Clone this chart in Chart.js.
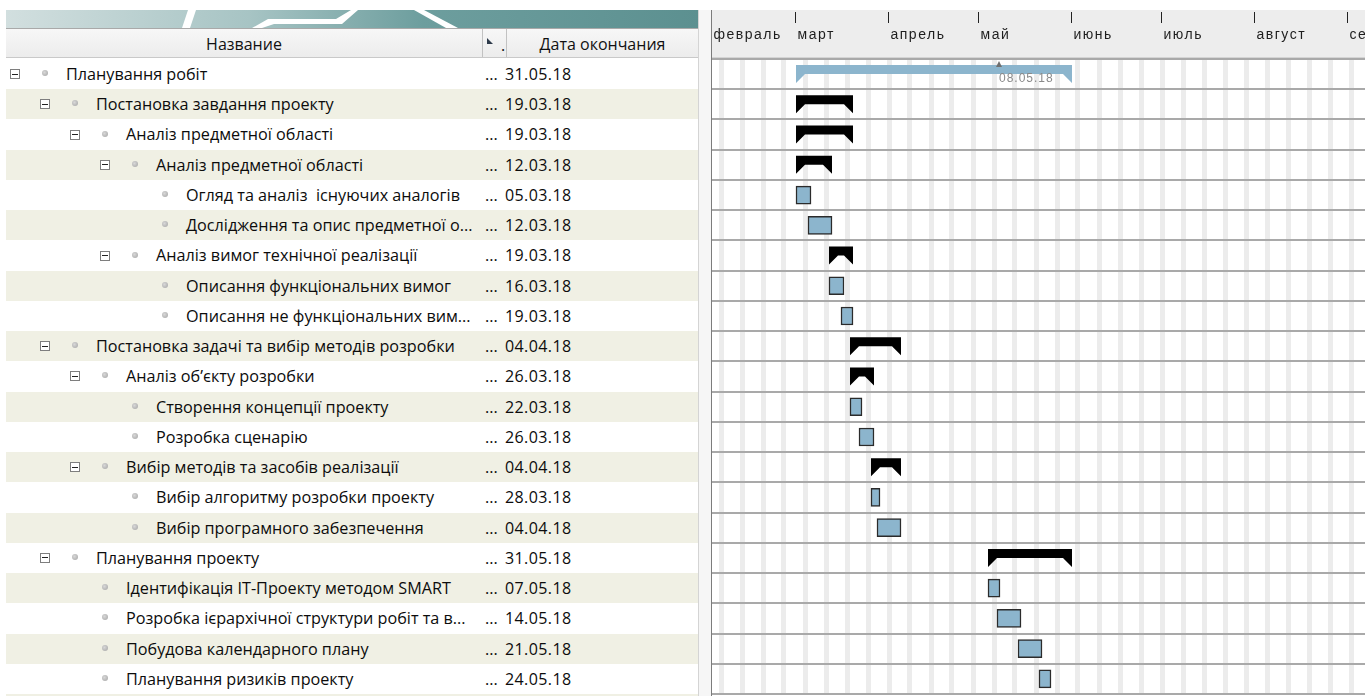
<!DOCTYPE html>
<html>
<head>
<meta charset="utf-8">
<script src="https://cdn.jsdelivr.net/npm/chart.js@4.4.1/dist/chart.umd.min.js"></script>
<style>
  body { margin: 0; width: 1365px; height: 696px; overflow: hidden; background: #fff; position: relative;
         font-family: "Open Sans", sans-serif; }
  #banner { position: absolute; left: 6px; top: 10px; width: 694px; height: 18px; }
  #header { position: absolute; left: 6px; top: 28px; width: 692px; height: 30px; box-sizing: border-box;
            border-top: 1px solid #a9a9a9; border-bottom: 1px solid #c9c9c9;
            background: linear-gradient(#f7f7f7, #ececec); font-size: 16px; color: #111; }
  .hcell { position: absolute; top: 0; height: 28px; line-height: 30px; text-align: center; box-sizing: border-box;
           border-right: 1px solid #c2c2c2; }
  #rows { position: absolute; left: 0; top: 0; width: 698px; height: 696px; }
  .row { position: absolute; left: 6px; width: 692px; font-size: 16.2px; color: #0c0c0c; }
  .row.alt { background: #f0f0e4; }
  .exp { position: absolute; width: 10px; height: 10px; box-sizing: border-box; border: 1px solid #7e7e7e; background: #fff; }
  .exp::after { content: ""; position: absolute; left: 1px; top: 3.5px; width: 6px; height: 1px; background: #222; }
  .dot { position: absolute; width: 6px; height: 6px; border-radius: 50%;
         background: radial-gradient(circle at 40% 40%, #d8d8d8, #a3a3a3); }
  .name, .ell, .date { position: absolute; top: 0; white-space: pre; }
  .date { letter-spacing: 0.4px; font-size: 16px; }
  #split { position: absolute; left: 698px; top: 10px; width: 13px; height: 686px; background: #f6f6f6;
           border-left: 1px solid #d4d4d4; box-sizing: border-box; }
  #wrap { position: absolute; left: 711px; top: 0; width: 654px; height: 696px; }
</style>
</head>
<body>
<svg id="banner" width="694" height="18">
  <defs>
    <linearGradient id="g" x1="0" x2="1" y1="0" y2="0">
      <stop offset="0" stop-color="#d2dfdf"/>
      <stop offset="0.35" stop-color="#a7c4c4"/>
      <stop offset="0.6" stop-color="#6d9e9e"/>
      <stop offset="1" stop-color="#5c9090"/>
    </linearGradient>
  </defs>
  <rect width="694" height="18" fill="url(#g)"/>
  <polygon points="176,18 182,0 190,0 184,18" fill="#fff"/>
  <polygon points="246,18 262,9 330,9 345,0 352,0 336,14 268,14 256,18" fill="#fff"/>
  <polygon points="408,0 418,0 452,18 440,18" fill="#fff"/>
</svg>
<div id="header">
  <div class="hcell" style="left:0;width:477px">Название</div>
  <div class="hcell" style="left:477px;width:24px"><span style="position:absolute;left:4px;top:9px;width:0;height:0;border-left:6px solid #2d3a4a;border-top:6px solid transparent"></span><span style="position:absolute;left:18px;top:0;line-height:32px">.</span></div>
  <div class="hcell" style="left:501px;width:191px;border-right:none">Дата окончания</div>
</div>
<div id="rows"></div>
<div id="split"></div>
<div id="wrap"><canvas id="gantt" width="654" height="696"></canvas></div>
<script>
const taskNames = [
  "Планування робіт",
  "Постановка завдання проекту",
  "Аналіз предметної області",
  "Аналіз предметної області",
  "Огляд та аналіз  існуючих аналогів",
  "Дослідження та опис предметної о...",
  "Аналіз вимог технічної реалізації",
  "Описання функціональних вимог",
  "Описання не функціональних вим...",
  "Постановка задачі та вибір методів розробки",
  "Аналіз об’єкту розробки",
  "Створення концепції проекту",
  "Розробка сценарію",
  "Вибір методів та засобів реалізації",
  "Вибір алгоритму розробки проекту",
  "Вибір програмного забезпечення",
  "Планування проекту",
  "Ідентифікація IT-Проекту методом SMART",
  "Розробка ієрархічної структури робіт та в...",
  "Побудова календарного плану",
  "Планування ризиків проекту"
];
const taskLevels = [0, 1, 2, 3, 4, 4, 3, 4, 4, 1, 2, 3, 3, 2, 3, 3, 1, 2, 2, 2, 2];
const isSummary = [true, true, true, true, false, false, true, false, false, true, true, false, false, true, false, false, true, false, false, false, false];
const startDates = [
  "2018-03-01", "2018-03-01", "2018-03-01", "2018-03-01", "2018-03-01", "2018-03-05", "2018-03-12",
  "2018-03-12", "2018-03-16", "2018-03-19", "2018-03-19", "2018-03-19", "2018-03-22", "2018-03-26",
  "2018-03-26", "2018-03-28", "2018-05-04", "2018-05-04", "2018-05-07", "2018-05-14", "2018-05-21"
];
const endDates = [
  "2018-05-31", "2018-03-19", "2018-03-19", "2018-03-12", "2018-03-05", "2018-03-12", "2018-03-19",
  "2018-03-16", "2018-03-19", "2018-04-04", "2018-03-26", "2018-03-22", "2018-03-26", "2018-04-04",
  "2018-03-28", "2018-04-04", "2018-05-31", "2018-05-07", "2018-05-14", "2018-05-21", "2018-05-24"
];
const monthNames = ["февраль", "март", "апрель", "май", "июнь", "июль", "август", "сентябрь"];
const monthStarts = ["2018-02-01", "2018-03-01", "2018-04-01", "2018-05-01", "2018-06-01", "2018-07-01", "2018-08-01", "2018-09-01"];
const markerDate = "2018-05-08";
const markerLabel = "08.05.18";

// days since 1 Feb 2018
function dayOf(s) {
  const p = s.split("-").map(Number);
  return (Date.UTC(p[0], p[1] - 1, p[2]) - Date.UTC(2018, 1, 1)) / 86400000;
}
function shortDate(s) {
  const p = s.split("-");
  return p[2] + "." + p[1] + "." + p[0].slice(2);
}

const spans = startDates.map((s, i) => [dayOf(s), dayOf(endDates[i]) + 1]);
const taskData = spans.map((v, i) => isSummary[i] ? null : v);
const summaryData = spans.map((v, i) => isSummary[i] ? v : null);

const xMin = -1 / 3, xMax = xMin + 654 / 3;
const weekends = [];
for (let d = 3; d < xMax + 3; d += 7) weekends.push(d);

const headerPlugin = {
  id: "header",
  beforeDraw(chart) {
    const c = chart.ctx, xs = chart.scales.x;
    c.save();
    c.fillStyle = "#ededed";
    c.fillRect(0, 10, chart.width, 48);
    c.fillStyle = "#d4d4d4";
    c.fillRect(0, 57, chart.width, 1);
    c.strokeStyle = "#222";
    c.lineWidth = 1;
    c.fillStyle = "#1e1e1e";
    c.font = "14px 'Liberation Sans', Arial, sans-serif";
    c.letterSpacing = "1.5px";
    c.textBaseline = "middle";
    monthStarts.forEach((m, i) => {
      const px = Math.round(xs.getPixelForValue(dayOf(m))) - 0.5;
      c.beginPath();
      c.moveTo(px, 12);
      c.lineTo(px, 23);
      c.stroke();
      c.fillText(monthNames[i], px + 2, 35);
    });
    c.restore();
  },
  afterDraw(chart) {
    const c = chart.ctx;
    c.save();
    c.fillStyle = "#7c7c7c";
    c.fillRect(0, 10, 1, chart.height - 10);
    c.restore();
  }
};

const summaryPlugin = {
  id: "summaryShapes",
  beforeDatasetDraw(chart, args) {
    if (args.index !== 1) return;
    const c = chart.ctx;
    const ds = chart.data.datasets[1];
    args.meta.data.forEach((el, i) => {
      if (!ds.data[i]) return;
      const x0 = Math.min(el.base, el.x), x1 = Math.max(el.base, el.x);
      const top = el.y - el.height / 2, bot = el.y + el.height / 2;
      const band = el.height / 2;
      const d = Math.min(9, (x1 - x0) / 2);
      c.save();
      c.fillStyle = ds.backgroundColor[i];
      c.beginPath();
      c.moveTo(x0, top);
      c.lineTo(x1, top);
      c.lineTo(x1, bot);
      c.lineTo(x1 - d, top + band);
      c.lineTo(x0 + d, top + band);
      c.lineTo(x0, bot);
      c.closePath();
      c.fill();
      c.restore();
    });
    return false;
  },
  afterDatasetsDraw(chart) {
    const c = chart.ctx, xs = chart.scales.x, ys = chart.scales.y;
    const px = xs.getPixelForValue(dayOf(markerDate)) - 1;
    const cy = ys.getPixelForValue(0);
    c.save();
    c.fillStyle = "#6f6f6f";
    c.beginPath();
    c.moveTo(px - 3, cy - 7);
    c.lineTo(px, cy - 13);
    c.lineTo(px + 3, cy - 7);
    c.closePath();
    c.fill();
    c.fillStyle = "#8a8a8a";
    c.font = "12px 'Liberation Sans', Arial, sans-serif";
    c.letterSpacing = "1px";
    c.textBaseline = "middle";
    c.fillText(markerLabel, px, cy + 5);
    c.restore();
  }
};

const chart = new Chart(document.getElementById("gantt"), {
  type: "bar",
  data: {
    labels: taskNames,
    datasets: [
      {
        label: "tasks",
        data: taskData,
        backgroundColor: "#8cb5cd",
        borderColor: "#2b2b2b",
        borderWidth: 1.5,
        borderSkipped: false,
        barThickness: 18,
        grouped: false
      },
      {
        label: "summary",
        data: summaryData,
        backgroundColor: summaryData.map((v, i) => i === 0 ? "#8cb5cd" : "#000000"),
        borderWidth: 0,
        barThickness: 18,
        grouped: false
      }
    ]
  },
  options: {
    indexAxis: "y",
    responsive: false,
    animation: false,
    layout: { padding: { top: 59, bottom: 2, left: 0, right: 0 } },
    plugins: { legend: { display: false }, tooltip: { enabled: false } },
    scales: {
      x: {
        type: "linear",
        position: "top",
        min: xMin,
        max: xMax,
        afterBuildTicks: s => { s.ticks = weekends.map(v => ({ value: v })); },
        ticks: { display: false },
        grid: { color: "#ececec", lineWidth: 5, drawTicks: false },
        border: { display: false }
      },
      y: {
        offset: true,
        ticks: { display: false },
        grid: { offset: true, color: "#a9a9a9", lineWidth: 2, drawTicks: false },
        border: { display: false }
      }
    }
  },
  plugins: [headerPlugin, summaryPlugin]
});

// left task table, rows placed from the chart's own y scale
(function buildTable() {
  const ys = chart.scales.y;
  const band = ys.height / taskNames.length;
  const box = document.getElementById("rows");
  const n = taskNames.length + 1;
  for (let i = 0; i < n; i++) {
    const top = ys.top + band * i;
    const row = document.createElement("div");
    row.className = "row" + (i % 2 ? " alt" : "");
    row.style.top = top + "px";
    row.style.height = band + "px";
    row.style.lineHeight = band + "px";
    box.appendChild(row);
    if (i >= taskNames.length) continue;
    const lv = taskLevels[i];
    const mid = band / 2;
    if (isSummary[i]) {
      const e = document.createElement("div");
      e.className = "exp";
      e.style.left = (15 + 30 * lv - 5 - 6) + "px";
      e.style.top = (mid - 5) + "px";
      row.appendChild(e);
    }
    const dot = document.createElement("div");
    dot.className = "dot";
    dot.style.left = (44.5 + 30 * lv - 3 - 6) + "px";
    dot.style.top = (mid - 4) + "px";
    row.appendChild(dot);
    const nm = document.createElement("div");
    nm.className = "name";
    nm.style.left = (66 + 30 * lv - 6) + "px";
    nm.textContent = taskNames[i];
    row.appendChild(nm);
    const el = document.createElement("div");
    el.className = "ell";
    el.style.left = (485 - 6) + "px";
    el.textContent = "...";
    row.appendChild(el);
    const dt = document.createElement("div");
    dt.className = "date";
    dt.style.left = (505 - 6) + "px";
    dt.textContent = shortDate(endDates[i]);
    row.appendChild(dt);
  }
})();
</script>
</body>
</html>
